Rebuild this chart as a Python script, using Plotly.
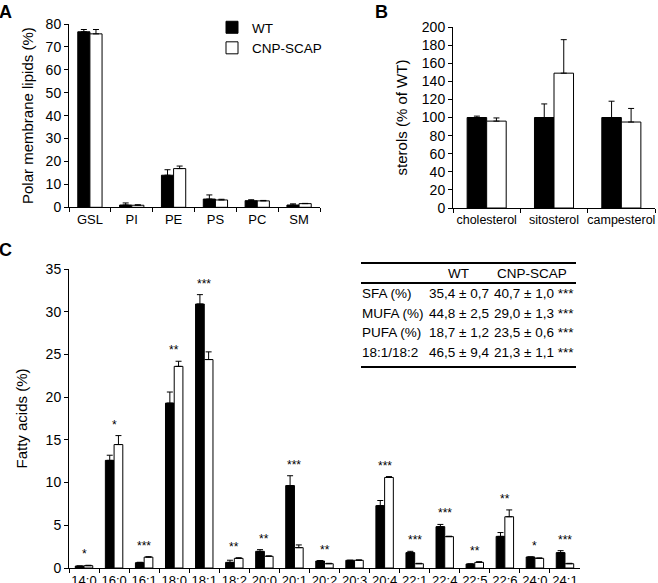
import plotly.graph_objects as go

# ---------------- data ----------------
cats_A = ["GSL", "PI", "PE", "PS", "PC", "SM"]
wt_A = [76.6, 1.0, 14.0, 3.6, 2.9, 1.0]
wt_A_err = [1.0, 0.9, 2.4, 1.8, 0.4, 0.5]
cnp_A = [75.7, 0.9, 16.9, 3.2, 2.8, 1.6]
cnp_A_err = [1.9, 0.2, 1.1, 0.3, 0.2, 0.1]

cats_B = ["cholesterol", "sitosterol", "campesterol"]
wt_B = [100, 100, 100]
wt_B_err = [1.5, 15, 18]
cnp_B = [96, 149, 95]
cnp_B_err = [3.5, 37, 15]

cats_C = ["14:0", "16:0", "16:1", "18:0", "18:1", "18:2", "20:0", "20:1", "20:2",
          "20:3", "20:4", "22:1", "22:4", "22:5", "22:6", "24:0", "24:1"]
wt_C = [0.23, 12.6, 0.62, 19.3, 30.9, 0.66, 1.95, 9.65, 0.82,
        0.9, 7.3, 1.8, 4.84, 0.47, 3.7, 1.29, 1.8]
wt_C_err = [0.0, 0.6, 0.05, 1.3, 1.1, 0.25, 0.2, 1.15, 0.05,
            0.0, 0.6, 0.15, 0.26, 0.0, 0.45, 0.0, 0.23]
cnp_C = [0.27, 14.45, 1.27, 23.6, 24.4, 1.13, 1.37, 2.38, 0.5,
         0.9, 10.6, 0.5, 3.67, 0.66, 6.0, 1.13, 0.5]
cnp_C_err = [0.05, 1.05, 0.05, 0.6, 0.9, 0.07, 0.05, 0.32, 0.05,
             0.05, 0.1, 0.05, 0.05, 0.08, 0.8, 0.05, 0.05]
stars_C = ["*", "*", "***", "**", "***", "**", "**", "***", "**",
           "", "***", "***", "***", "**", "**", "*", "***"]

table_header = ["WT", "CNP-SCAP"]
table_rows = ["SFA (%)", "MUFA (%)", "PUFA (%)", "18:1/18:2"]
table_wt = ["35,4 ± 0,7", "44,8 ± 2,5", "18,7 ± 1,2", "46,5 ± 9,4"]
table_cnp = ["40,7 ± 1,0 ***", "29,0 ± 1,3 ***", "23,5 ± 0,6 ***", "21,3 ± 1,1 ***"]

FONT = "Arial, Liberation Sans, sans-serif"
W, H = 658, 583


def px(x):
    return x / W


def py(y):
    return 1 - y / H


fig = go.Figure()


def add_pair(cats, wt, wterr, cnp, cnperr, xa, ya, show):
    for name, vals, errs, fill in [("WT", wt, wterr, "black"),
                                   ("CNP-SCAP", cnp, cnperr, "white")]:
        fig.add_trace(go.Bar(
            x=cats, y=vals, name=name, xaxis=xa, yaxis=ya,
            marker=dict(color=fill, line=dict(color="black", width=1)),
            error_y=dict(type="data", array=errs, arrayminus=[0] * len(errs),
                         symmetric=False, color="black", thickness=1, width=3),
            showlegend=show,
        ))


add_pair(cats_A, wt_A, wt_A_err, cnp_A, cnp_A_err, "x", "y", True)
add_pair(cats_B, wt_B, wt_B_err, cnp_B, cnp_B_err, "x2", "y2", False)
add_pair(cats_C, wt_C, wt_C_err, cnp_C, cnp_C_err, "x3", "y3", False)

axis_common = dict(showline=True, linecolor="black", linewidth=1, ticks="outside",
                   ticklen=4, tickcolor="black", showgrid=False, zeroline=False,
                   automargin=False)

xcat = dict(axis_common, type="category", tickson="boundaries", tickangle=0,
            tickfont=dict(family=FONT, size=13, color="black"))
yax = dict(axis_common, tickfont=dict(family=FONT, size=14, color="black"))
TF = dict(family=FONT, size=15, color="black")

fig.update_layout(
    width=W, height=H, margin=dict(l=0, r=0, t=0, b=0, autoexpand=False),
    plot_bgcolor="white", paper_bgcolor="white",
    barmode="group", bargroupgap=0, bargap=0.42,
    font=dict(family=FONT, size=13, color="black"),
    xaxis=dict(xcat, domain=[px(69), px(320)], anchor="y"),
    yaxis=dict(yax, domain=[py(207.3), py(24)], range=[0, 80], dtick=10,
               anchor="x",
               title=dict(text="Polar membrane lipids (%)", font=TF, standoff=8)),
    xaxis2=dict(xcat, domain=[px(453), px(655)], anchor="y2",
                tickfont=dict(family=FONT, size=12.5, color="black")),
    yaxis2=dict(yax, domain=[py(208), py(27)], range=[0, 200], dtick=20,
                anchor="x2",
                title=dict(text="sterols (% of WT)", font=TF, standoff=10)),
    xaxis3=dict(xcat, domain=[px(69), px(580)], anchor="y3"),
    yaxis3=dict(yax, domain=[py(568), py(269)], range=[0, 35], dtick=5,
                anchor="x3",
                title=dict(text="Fatty acids (%)", font=TF, standoff=14)),
    legend=dict(x=px(212), y=py(12), xanchor="left", yanchor="top",
                font=dict(family=FONT, size=13.5), bgcolor="rgba(0,0,0,0)",
                itemwidth=30, tracegroupgap=0),
)

annotations = []
# panel letters
for letter, x, y in [("A", 0, 0), ("B", 376, 0), ("C", 0, 238)]:
    annotations.append(dict(text="<b>%s</b>" % letter, x=px(x), y=py(y), xref="paper",
                            yref="paper", xanchor="left", yanchor="top", showarrow=False,
                            xshift=-3, font=dict(family=FONT, size=18, color="black")))

# significance stars
for c, s, a, ae, b, be in zip(cats_C, stars_C, wt_C, wt_C_err, cnp_C, cnp_C_err):
    if s:
        top = max(a + ae, b + be)
        annotations.append(dict(text=s, x=c, y=top, xref="x3", yref="y3",
                                yanchor="bottom", yshift=2, showarrow=False,
                                font=dict(family=FONT, size=12, color="black")))

# table
tfont = dict(family=FONT, size=13.5, color="black")
annotations.append(dict(text=table_header[0], x=px(458), y=py(273), xref="paper",
                        yref="paper", xanchor="center", yanchor="middle",
                        showarrow=False, font=tfont))
annotations.append(dict(text=table_header[1], x=px(532), y=py(273), xref="paper",
                        yref="paper", xanchor="center", yanchor="middle",
                        showarrow=False, font=tfont))
row_y = [293, 313, 332, 352]
for lab, wv, cv, ry in zip(table_rows, table_wt, table_cnp, row_y):
    annotations.append(dict(text=lab, x=px(360), y=py(ry), xref="paper", yref="paper",
                            xanchor="left", yanchor="middle", showarrow=False, font=tfont))
    annotations.append(dict(text=wv, x=px(427), y=py(ry), xref="paper", yref="paper",
                            xanchor="left", yanchor="middle", showarrow=False, font=tfont))
    annotations.append(dict(text=cv, x=px(492), y=py(ry), xref="paper", yref="paper",
                            xanchor="left", yanchor="middle", showarrow=False, font=tfont))

fig.update_layout(annotations=annotations)

shapes = []
for yy in [263, 283, 367]:
    shapes.append(dict(type="line", xref="paper", yref="paper", x0=px(361), x1=px(576),
                       y0=py(yy), y1=py(yy), line=dict(color="black", width=2)))
fig.update_layout(shapes=shapes)

fig.write_html("out.html", config={"displayModeBar": False},
               post_script="document.body.style.margin='0';document.body.style.overflow='hidden';")
